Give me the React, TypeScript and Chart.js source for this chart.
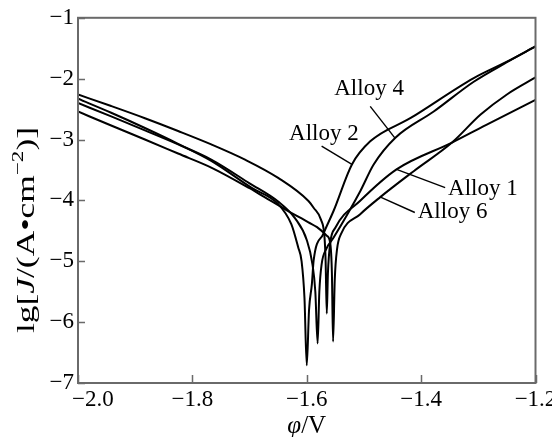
import { useEffect, useRef } from "react";
import { Chart, registerables } from "chart.js";

Chart.register(...registerables);

// ---- axis ticks ----
const xTickValues = [-2.0, -1.8, -1.6, -1.4, -1.2];
const yTickValues = [-1, -2, -3, -4, -5, -6, -7];

// ---- series (φ / V , lg J) ----
const alloy1Phi = [-2.0, -1.942, -1.883, -1.825, -1.767, -1.708, -1.65, -1.597, -1.588, -1.575, -1.569, -1.567, -1.565, -1.563, -1.559, -1.55, -1.507, -1.443, -1.346, -1.28, -1.2];
const alloy1LgJ = [-2.26, -2.45, -2.65, -2.86, -3.08, -3.33, -3.63, -4.01, -4.12, -4.32, -4.6, -5.0, -5.86, -5.2, -4.7, -4.45, -4.01, -3.49, -3.05, -2.73, -2.35];

const alloy2Phi = [-2.0, -1.942, -1.883, -1.825, -1.767, -1.697, -1.65, -1.627, -1.615, -1.609, -1.604, -1.6, -1.596, -1.591, -1.588, -1.571, -1.553, -1.521, -1.489, -1.419, -1.308, -1.25, -1.2];
const alloy2LgJ = [-2.33, -2.56, -2.81, -3.07, -3.35, -3.79, -4.06, -4.39, -4.77, -5.0, -5.6, -6.71, -5.8, -5.37, -4.99, -4.55, -4.17, -3.41, -3.03, -2.65, -1.99, -1.72, -1.47];

const alloy4Phi = [-2.0, -1.942, -1.883, -1.825, -1.767, -1.7, -1.65, -1.62, -1.6, -1.59, -1.585, -1.581, -1.578, -1.574, -1.566, -1.553, -1.506, -1.483, -1.445, -1.378, -1.308, -1.25, -1.2];
const alloy4LgJ = [-2.4, -2.62, -2.85, -3.08, -3.33, -3.72, -4.02, -4.3, -4.65, -5.05, -5.5, -6.35, -5.5, -5.05, -4.8, -4.61, -3.84, -3.41, -2.97, -2.54, -2.05, -1.73, -1.47];

const alloy6Phi = [-2.0, -1.942, -1.883, -1.825, -1.767, -1.7, -1.673, -1.637, -1.597, -1.582, -1.565, -1.559, -1.556, -1.554, -1.551, -1.547, -1.54, -1.507, -1.472, -1.413, -1.346, -1.296, -1.25, -1.2];
const alloy6LgJ = [-2.54, -2.77, -3.0, -3.23, -3.46, -3.8, -3.95, -4.15, -4.36, -4.44, -4.58, -4.7, -5.2, -6.32, -5.3, -4.8, -4.55, -4.23, -3.95, -3.52, -3.05, -2.59, -2.26, -1.98];

// ---- annotations (data units) ----
const labelTexts = ["Alloy 4", "Alloy 2", "Alloy 1", "Alloy 6"];
const labelPhi = [-1.491, -1.570, -1.292, -1.345];
const labelLgJ = [-2.27, -3.0, -3.91, -4.29];
const leaderFromPhi = [-1.489, -1.574, -1.443, -1.472];
const leaderFromLgJ = [-2.455, -3.109, -3.49, -3.943];
const leaderToPhi = [-1.446, -1.521, -1.358, -1.411];
const leaderToLgJ = [-2.973, -3.408, -3.791, -4.199];

const SERIF = '"Liberation Serif", "Times New Roman", serif';

const toPoints = (xs: number[], ys: number[]) => xs.map((v, i) => ({ x: v, y: ys[i] }));
const fmt = (v: number, d: number) => v.toFixed(d).replace("-", "\u2212");

const decorPlugin = {
  id: "decor",
  afterDraw(chart: any) {
    const { ctx, chartArea: a } = chart;
    const xs = chart.scales.x;
    const ys = chart.scales.y;
    ctx.save();
    // frame
    ctx.strokeStyle = "#6a6a6a";
    ctx.lineWidth = 2;
    ctx.strokeRect(a.left, a.top, a.right - a.left, a.bottom - a.top);
    // inward tick marks
    ctx.lineWidth = 1.5;
    ctx.beginPath();
    xs.ticks.forEach((t: any) => {
      const px = Math.round(xs.getPixelForValue(t.value)) + 0.5;
      ctx.moveTo(px, a.bottom);
      ctx.lineTo(px, a.bottom - 8);
    });
    ys.ticks.forEach((t: any) => {
      const py = Math.round(ys.getPixelForValue(t.value)) + 0.5;
      ctx.moveTo(a.left, py);
      ctx.lineTo(a.left + 7, py);
    });
    ctx.stroke();

    // x tick labels
    ctx.fillStyle = "#000";
    ctx.font = `23px ${SERIF}`;
    ctx.textBaseline = "alphabetic";
    xs.ticks.forEach((t: any, i: number) => {
      const px = xs.getPixelForValue(t.value);
      const s = fmt(t.value, 1);
      if (i === 0) {
        ctx.textAlign = "left";
        ctx.fillText(s, px - 6, a.bottom + 23);
      } else {
        ctx.textAlign = "center";
        ctx.fillText(s, px, a.bottom + 23);
      }
    });

    // annotations
    ctx.strokeStyle = "#000";
    ctx.lineWidth = 1.4;
    ctx.textAlign = "center";
    labelTexts.forEach((txt, i) => {
      ctx.beginPath();
      ctx.moveTo(xs.getPixelForValue(leaderFromPhi[i]), ys.getPixelForValue(leaderFromLgJ[i]));
      ctx.lineTo(xs.getPixelForValue(leaderToPhi[i]), ys.getPixelForValue(leaderToLgJ[i]));
      ctx.stroke();
      ctx.fillText(txt, xs.getPixelForValue(labelPhi[i]), ys.getPixelForValue(labelLgJ[i]));
    });

    // x title: φ/V
    ctx.font = `italic 25px ${SERIF}`;
    const w1 = ctx.measureText("\u03C6").width;
    ctx.font = `25px ${SERIF}`;
    const w2 = ctx.measureText("/V").width;
    const cx = (a.left + a.right) / 2;
    const sx = cx - (w1 + w2) / 2;
    ctx.textAlign = "left";
    ctx.font = `italic 25px ${SERIF}`;
    ctx.fillText("\u03C6", sx, 433);
    ctx.font = `25px ${SERIF}`;
    ctx.fillText("/V", sx + w1, 433);

    // y title: lg[J/(A•cm^-2)]
    const fs = 26;
    const segs = [
      { t: "lg[", f: `${fs}px ${SERIF}`, dy: 0 },
      { t: "J", f: `italic ${fs}px ${SERIF}`, dy: 0 },
      { t: "/(A\u2022cm", f: `${fs}px ${SERIF}`, dy: 0 },
      { t: "\u22122", f: `${Math.round(fs * 0.65)}px ${SERIF}`, dy: -fs * 0.42 },
      { t: ")]", f: `${fs}px ${SERIF}`, dy: 0 },
    ];
    let total = 0;
    const widths = segs.map((s) => {
      ctx.font = s.f;
      const w = ctx.measureText(s.t).width;
      total += w;
      return w;
    });
    const target = 206;
    ctx.translate(34, 230);
    ctx.rotate(-Math.PI / 2);
    ctx.scale(target / total, 1);
    let pos = -total / 2;
    segs.forEach((s, i) => {
      ctx.font = s.f;
      ctx.fillText(s.t, pos, s.dy);
      pos += widths[i];
    });
    ctx.restore();
  },
};

export default function App() {
  const ref = useRef<HTMLCanvasElement | null>(null);
  useEffect(() => {
    if (!ref.current) return;
    const series = [
      { label: "Alloy 1", xs: alloy1Phi, ys: alloy1LgJ },
      { label: "Alloy 2", xs: alloy2Phi, ys: alloy2LgJ },
      { label: "Alloy 4", xs: alloy4Phi, ys: alloy4LgJ },
      { label: "Alloy 6", xs: alloy6Phi, ys: alloy6LgJ },
    ];
    const chart = new Chart(ref.current, {
      type: "scatter",
      data: {
        datasets: series.map((s) => ({
          label: s.label,
          data: toPoints(s.xs, s.ys),
          showLine: true,
          borderColor: "#000",
          borderWidth: 2,
          pointRadius: 0,
          cubicInterpolationMode: "monotone" as const,
          fill: false,
        })),
      },
      options: {
        responsive: false,
        animation: false,
        layout: { padding: { left: 0, top: 16, right: 16.5, bottom: 0 } },
        plugins: { legend: { display: false }, tooltip: { enabled: false } },
        scales: {
          x: {
            type: "linear",
            min: -2.0,
            max: -1.2,
            afterBuildTicks: (scale: any) => {
              scale.ticks = xTickValues.map((v) => ({ value: v }));
            },
            ticks: { display: false },
            grid: { display: false, drawTicks: false },
            border: { display: false },
            afterFit: (scale: any) => {
              scale.height = 54;
            },
          },
          y: {
            type: "linear",
            min: -7,
            max: -1,
            afterBuildTicks: (scale: any) => {
              scale.ticks = yTickValues.map((v) => ({ value: v }));
            },
            ticks: {
              color: "#000",
              font: { family: SERIF, size: 23 },
              padding: 4,
              callback: (v: any) => fmt(Number(v), 0),
            },
            grid: { display: false, drawTicks: false },
            border: { display: false },
            afterFit: (scale: any) => {
              scale.width = 78;
            },
          },
        },
      },
      plugins: [decorPlugin],
    });
    return () => chart.destroy();
  }, []);
  return (
    <div style={{ position: "fixed", left: 0, top: 0, width: 552, height: 437, background: "#fff" }}>
      <canvas ref={ref} width={552} height={437} style={{ display: "block" }} />
    </div>
  );
}
